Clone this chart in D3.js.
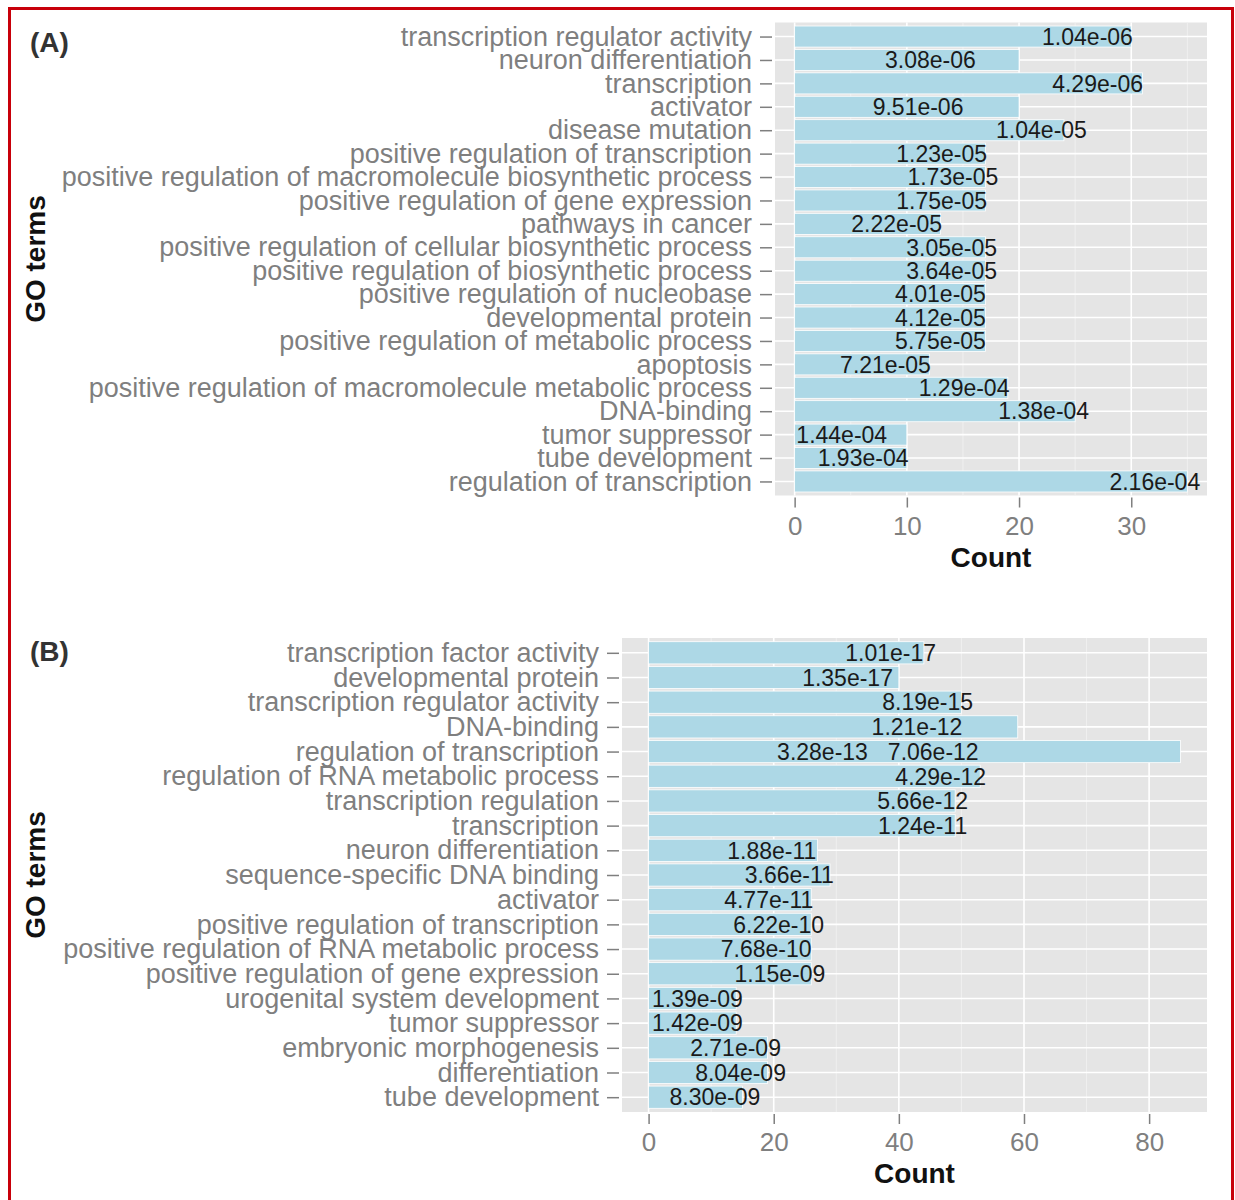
<!DOCTYPE html>
<html>
<head>
<meta charset="utf-8">
<script src="https://cdn.jsdelivr.net/npm/d3@7"></script>
<style>
    body { margin: 0; background: #fff; }
    svg text { font-family: "Liberation Sans", Arial, sans-serif; }
</style>
</head>
<body>
<div id="chart"></div>
<script>
// Panel A
const termsA = [
    "transcription regulator activity", "neuron differentiation", "transcription", "activator",
    "disease mutation", "positive regulation of transcription",
    "positive regulation of macromolecule biosynthetic process", "positive regulation of gene expression",
    "pathways in cancer", "positive regulation of cellular biosynthetic process",
    "positive regulation of biosynthetic process", "positive regulation of nucleobase",
    "developmental protein", "positive regulation of metabolic process", "apoptosis",
    "positive regulation of macromolecule metabolic process", "DNA-binding", "tumor suppressor",
    "tube development", "regulation of transcription"
];
const countsA = [30, 20, 31, 20, 24, 17, 17, 17, 13, 17, 17, 17, 17, 17, 12, 19, 25, 10, 10, 35];
const pvalsA = [
    "1.04e-06", "3.08e-06", "4.29e-06", "9.51e-06", "1.04e-05", "1.23e-05", "1.73e-05", "1.75e-05",
    "2.22e-05", "3.05e-05", "3.64e-05", "4.01e-05", "4.12e-05", "5.75e-05", "7.21e-05", "1.29e-04",
    "1.38e-04", "1.44e-04", "1.93e-04", "2.16e-04"
];
// where each p-value label sits, in count units
const labelAtA = [26.1, 12.1, 27.0, 11.0, 22.0, 13.1, 14.1, 13.1, 9.1, 14.0, 14.0, 13.0, 13.0, 13.0, 8.1, 15.1, 22.2, 4.2, 6.1, 32.1];

// Panel B
const termsB = [
    "transcription factor activity", "developmental protein", "transcription regulator activity",
    "DNA-binding", "regulation of transcription", "regulation of RNA metabolic process",
    "transcription regulation", "transcription", "neuron differentiation", "sequence-specific DNA binding",
    "activator", "positive regulation of transcription", "positive regulation of RNA metabolic process",
    "positive regulation of gene expression", "urogenital system development", "tumor suppressor",
    "embryonic morphogenesis", "differentiation", "tube development"
];
const countsB = [44, 40, 50, 59, 85, 53, 49, 49, 27, 29, 26, 26, 26, 26, 14, 14, 19, 19, 15];
const pvalsB = [
    "1.01e-17", "1.35e-17", "8.19e-15", "1.21e-12", "7.06e-12", "4.29e-12", "5.66e-12", "1.24e-11",
    "1.88e-11", "3.66e-11", "4.77e-11", "6.22e-10", "7.68e-10", "1.15e-09", "1.39e-09", "1.42e-09",
    "2.71e-09", "8.04e-09", "8.30e-09"
];
const labelAtB = [38.7, 31.8, 44.6, 42.9, 45.5, 46.7, 43.8, 43.8, 19.7, 22.5, 19.2, 20.8, 18.8, 21.0, 7.8, 7.8, 13.9, 14.7, 10.6];
// second term with the same name shares the "regulation of transcription" bar
const extraTermsB = ["regulation of transcription"];
const extraPvalsB = ["3.28e-13"];
const extraLabelAtB = [27.8];

class GoBarChart {
    constructor(_config, _data) {
        this.config = _config;
        this.data = _data;
        this.initVis();
    }

    initVis() {
        let vis = this;
        const c = vis.config;
        vis.g = c.svg.append("g");

        const maxCount = d3.max(vis.data.rows, (d) => d.count);
        const pad = maxCount * 0.05;
        vis.x = d3.scaleLinear().domain([-pad, maxCount + pad]).range([c.left, c.right]);
        vis.y = d3.scalePoint().domain(vis.data.rows.map((d) => d.term)).range([c.top, c.bottom]).padding(0.6);

        vis.renderVis();
    }

    renderVis() {
        let vis = this;
        const c = vis.config;
        const x = vis.x, y = vis.y;
        const major = x.ticks(c.tickCount);
        const step = major[1] - major[0];
        const minor = major.map((t) => t + step / 2).concat([major[0] - step / 2])
            .filter((t) => t > x.domain()[0] && t < x.domain()[1]);

        vis.g.append("rect")
            .attr("x", c.left).attr("y", c.top)
            .attr("width", c.right - c.left).attr("height", c.bottom - c.top)
            .attr("fill", "#e5e5e5");

        vis.g.selectAll(".minor").data(minor).join("line")
            .attr("class", "minor")
            .attr("x1", (d) => x(d)).attr("x2", (d) => x(d))
            .attr("y1", c.top).attr("y2", c.bottom)
            .attr("stroke", "#f2f2f2").attr("stroke-width", 0.8);

        vis.g.selectAll(".vmajor").data(major).join("line")
            .attr("class", "vmajor")
            .attr("x1", (d) => x(d)).attr("x2", (d) => x(d))
            .attr("y1", c.top).attr("y2", c.bottom)
            .attr("stroke", "#fff").attr("stroke-width", 1.6);

        vis.g.selectAll(".hmajor").data(y.domain()).join("line")
            .attr("class", "hmajor")
            .attr("x1", c.left).attr("x2", c.right)
            .attr("y1", (d) => y(d)).attr("y2", (d) => y(d))
            .attr("stroke", "#fff").attr("stroke-width", 1.6);

        const bh = y.step() * 0.9;
        vis.g.selectAll(".bar").data(vis.data.rows).join("rect")
            .attr("class", "bar")
            .attr("x", x(0))
            .attr("y", (d) => y(d.term) - bh / 2)
            .attr("width", (d) => x(d.count) - x(0))
            .attr("height", bh)
            .attr("fill", "#add8e6")
            .attr("stroke", "#fff")
            .attr("stroke-width", 0.8);

        vis.g.selectAll(".plabel").data(vis.data.labels).join("text")
            .attr("class", "plabel")
            .attr("x", (d) => x(d.at))
            .attr("y", (d) => y(d.term))
            .attr("dy", "0.36em")
            .attr("text-anchor", "middle")
            .attr("font-size", 23)
            .attr("fill", "#1a1a1a")
            .text((d) => d.p);

        // axes
        const yAxis = vis.g.append("g")
            .attr("transform", `translate(${c.left - 3},0)`)
            .call(d3.axisLeft(y).tickSize(12).tickPadding(8));
        yAxis.select(".domain").remove();
        yAxis.selectAll("line").attr("stroke", "#7f7f7f").attr("stroke-width", 1.5);
        yAxis.selectAll("text")
            .attr("font-size", 27)
            .attr("fill", "#7f7f7f")
            .attr("font-family", '"Liberation Sans", Arial, sans-serif');

        const xAxis = vis.g.append("g")
            .attr("transform", `translate(0,${c.bottom + 2})`)
            .call(d3.axisBottom(x).tickValues(major).tickSize(10).tickPadding(9).tickFormat(d3.format("d")));
        xAxis.select(".domain").remove();
        xAxis.selectAll("line").attr("stroke", "#7f7f7f").attr("stroke-width", 1.5);
        xAxis.selectAll("text")
            .attr("font-size", 26)
            .attr("fill", "#7f7f7f")
            .attr("font-family", '"Liberation Sans", Arial, sans-serif');

        vis.g.append("text")
            .attr("x", (c.left + c.right) / 2)
            .attr("y", c.bottom + 71)
            .attr("text-anchor", "middle")
            .attr("font-size", 28)
            .attr("font-weight", 700)
            .attr("fill", "#111")
            .text("Count");

        vis.g.append("text")
            .attr("transform", `translate(35,${(c.top + c.bottom) / 2}) rotate(-90)`)
            .attr("dy", "0.36em")
            .attr("text-anchor", "middle")
            .attr("font-size", 28)
            .attr("font-weight", 700)
            .attr("fill", "#111")
            .text("GO terms");

        vis.g.append("text")
            .attr("x", 30)
            .attr("y", c.tagY)
            .attr("dy", "0.36em")
            .attr("font-size", 28)
            .attr("font-weight", 700)
            .attr("fill", "#333")
            .text(c.tag);
    }
}

const svg = d3.select("#chart").append("svg")
    .attr("width", 1235)
    .attr("height", 1200);

svg.append("rect").attr("width", 1235).attr("height", 1200).attr("fill", "#fff");

const dataA = {
    rows: termsA.map((t, i) => ({ term: t, count: countsA[i] })),
    labels: termsA.map((t, i) => ({ term: t, p: pvalsA[i], at: labelAtA[i] })),
};
const dataB = {
    rows: termsB.map((t, i) => ({ term: t, count: countsB[i] })),
    labels: termsB.map((t, i) => ({ term: t, p: pvalsB[i], at: labelAtB[i] }))
        .concat(extraTermsB.map((t, i) => ({ term: t, p: extraPvalsB[i], at: extraLabelAtB[i] }))),
};

new GoBarChart({ svg: svg, left: 775, right: 1207, top: 22.5, bottom: 495.5, tickCount: 4, tag: "(A)", tagY: 42 }, dataA);
new GoBarChart({ svg: svg, left: 622, right: 1207, top: 638, bottom: 1112, tickCount: 5, tag: "(B)", tagY: 651 }, dataB);

// red frame round the figure
svg.append("rect")
    .attr("x", 9.5).attr("y", 8.5)
    .attr("width", 1223).attr("height", 1210)
    .attr("fill", "none")
    .attr("stroke", "#c8000a")
    .attr("stroke-width", 3);
</script>
</body>
</html>
